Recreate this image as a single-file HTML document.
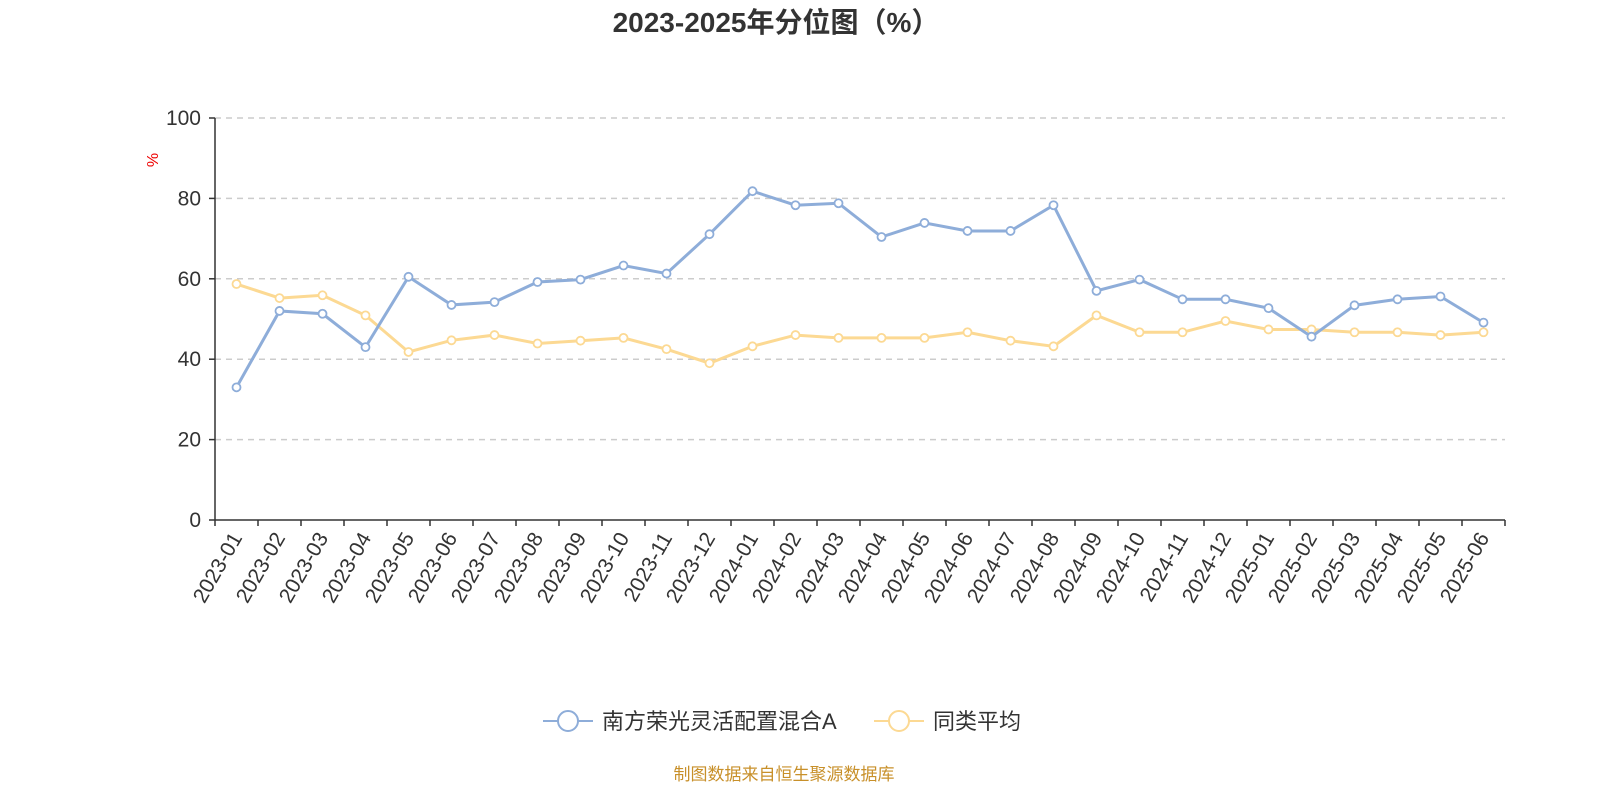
<!DOCTYPE html>
<html><head><meta charset="utf-8"><style>
html,body{margin:0;padding:0;background:#fff;}
svg text{font-family:"Liberation Sans","Noto Sans CJK SC",sans-serif;}
</style></head><body>
<svg id="chart" width="1600" height="800" xmlns="http://www.w3.org/2000/svg">
<text x="776" y="32" text-anchor="middle" font-size="28" font-weight="bold" fill="#333">2023-2025年分位图（%）</text>
<text x="158" y="160" font-size="16" fill="#e00" transform="rotate(-90 158 160)" text-anchor="middle">%</text>
<g id="grid"></g>
<g id="axes"></g>
<g id="series"></g>
<g>
<g>
<line x1="543" y1="721" x2="593" y2="721" stroke="#8eadd9" stroke-width="2"/>
<circle cx="568" cy="721" r="10" fill="#fff" stroke="#8eadd9" stroke-width="2"/>
<text x="602" y="729" font-size="22" fill="#333">南方荣光灵活配置混合A</text>
</g>
<g>
<line x1="874" y1="721" x2="924" y2="721" stroke="#fcd993" stroke-width="2"/>
<circle cx="899" cy="721" r="10" fill="#fff" stroke="#fcd993" stroke-width="2"/>
<text x="933" y="729" font-size="22" fill="#333">同类平均</text>
</g>
</g>
<text x="784" y="780" text-anchor="middle" font-size="17" fill="#c8902a">制图数据来自恒生聚源数据库</text>
</svg>
<script>
const categories=["2023-01","2023-02","2023-03","2023-04","2023-05","2023-06","2023-07","2023-08","2023-09","2023-10","2023-11","2023-12","2024-01","2024-02","2024-03","2024-04","2024-05","2024-06","2024-07","2024-08","2024-09","2024-10","2024-11","2024-12","2025-01","2025-02","2025-03","2025-04","2025-05","2025-06"];
const fundValues=[33,52,51.3,43,60.5,53.5,54.2,59.2,59.8,63.3,61.3,71.1,81.8,78.3,78.8,70.4,73.9,71.9,71.9,78.3,57,59.8,54.9,54.9,52.7,45.6,53.4,54.9,55.6,49.1];
const avgValues=[58.7,55.2,55.9,50.9,41.8,44.7,46.0,43.9,44.6,45.3,42.5,39.0,43.2,46.0,45.3,45.3,45.3,46.7,44.6,43.2,50.9,46.7,46.7,49.5,47.4,47.4,46.7,46.7,46.0,46.7];
const yTicks=[0,20,40,60,80,100];
const NS="http://www.w3.org/2000/svg";
const x0=215,x1=1505,y0=520,y1=118;
const bw=(x1-x0)/categories.length;
function xs(i){return x0+bw*(i+0.5);}
function ys(v){return y0-(v/100)*(y0-y1);}
function mk(t,a,p){const e=document.createElementNS(NS,t);for(const k in a)e.setAttribute(k,a[k]);p.appendChild(e);return e;}
const grid=document.getElementById('grid'),axes=document.getElementById('axes'),series=document.getElementById('series');
yTicks.forEach(v=>{
 if(v>0){const l=mk('line',{x1:x0,x2:x1,y1:ys(v),y2:ys(v),stroke:'#ccc','stroke-width':1.5,'stroke-dasharray':'6,5'},grid);
 
 }
 const t=mk('text',{x:x0-14,y:ys(v)+7,'text-anchor':'end','font-size':21,fill:'#333'},axes);t.textContent=v;
 
 
 mk('line',{x1:x0-6,x2:x0,y1:ys(v),y2:ys(v),stroke:'#333','stroke-width':1.5},axes);
});
mk('line',{x1:x0,x2:x0,y1:y1,y2:y0,stroke:'#333','stroke-width':1.5},axes);
mk('line',{x1:x0,x2:x1,y1:y0,y2:y0,stroke:'#333','stroke-width':1.5},axes);
for(let i=0;i<=categories.length;i++){mk('line',{x1:x0+bw*i,x2:x0+bw*i,y1:y0,y2:y0+6,stroke:'#333','stroke-width':1.5},axes);}
categories.forEach((c,i)=>{
 const x=xs(i),y=y0+14;
 const t=mk('text',{x:x,y:y,'text-anchor':'end','font-size':21,fill:'#333',transform:`rotate(-60 ${x} ${y})`,dy:'0.35em'},axes);t.textContent=c;
 
 
});
function draw(vals,color,name){
 const p=mk('polyline',{points:vals.map((v,i)=>xs(i)+','+ys(v)).join(' '),fill:'none',stroke:color,'stroke-width':3},series);
 
 
 vals.forEach((v,i)=>{const c=mk('circle',{cx:xs(i),cy:ys(v),r:4,fill:'#fff',stroke:color,'stroke-width':1.8},series);
 
 });
}
draw(avgValues,'#fcd993','average');
draw(fundValues,'#8eadd9','fund');
</script>
</body></html>
